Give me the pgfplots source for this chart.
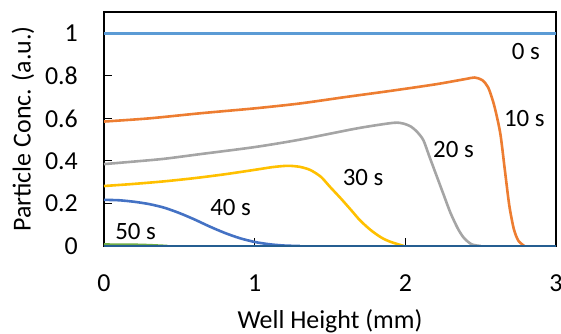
\documentclass[border=0pt]{standalone}
\usepackage{pgfplots}
\pgfplotsset{compat=1.18}
\usepackage{fontspec}
\setmainfont{Carlito}
\definecolor{c0}{HTML}{5B9BD5}
\definecolor{c10}{HTML}{ED7D31}
\definecolor{c20}{HTML}{A5A5A5}
\definecolor{c30}{HTML}{FFC000}
\definecolor{c40}{HTML}{4472C4}
\definecolor{c50}{HTML}{70AD47}
\definecolor{c60}{HTML}{255E91}
\begin{document}
\begin{tikzpicture}[x=1bp,y=1bp]
\path[use as bounding box] (-104,-87) rectangle (457,246);
\begin{axis}[
  at={(0,0)}, anchor=origin,
  scale only axis, width=452bp, height=234bp,
  xmin=0, xmax=3, ymin=0, ymax=1.1,
  xtick={0,1,2,3}, ytick={0,0.2,0.4,0.6,0.8,1},
  yticklabels={0,0.2,0.4,0.6,0.8,1},
  tick align=inside, xtick pos=bottom, ytick pos=left,
  major tick length=8bp,
  tick style={black, line width=1bp},
  axis line style={black, line width=1.3bp},
  ticklabel style={font=\fontsize{26}{30}\selectfont, inner sep=0pt},
  /pgf/number format/assume math mode=true,
  xticklabel style={anchor=center, yshift=-37bp},
  yticklabel style={anchor=east, xshift=-26bp},
  xlabel={Well Height (mm)}, ylabel={Particle Conc. (a.u.)},
  label style={font=\fontsize{26}{30}\selectfont, inner sep=0pt},
  xlabel style={at={(axis description cs:0.5,0)}, anchor=center, yshift=-75bp},
  ylabel style={at={(axis description cs:0,0.5)}, anchor=center, rotate=0, yshift=81bp},
  clip=true,
  every axis plot/.append style={line width=2.6bp, no markers},
]
\addplot[c0] coordinates {(0,1) (3,1)};
\addplot[c10, smooth, tension=0.45] coordinates {(0,0.585) (0.3,0.6) (0.64,0.624) (1.0,0.647) (1.3,0.67) (1.6,0.70) (1.9,0.729) (2.2,0.76) (2.4,0.785) (2.46,0.792) (2.51,0.78) (2.55,0.745) (2.59,0.66) (2.63,0.53) (2.66,0.36) (2.69,0.19) (2.72,0.08) (2.75,0.025) (2.79,0)};
\addplot[c20, smooth, tension=0.45] coordinates {(0,0.385) (0.2,0.397) (0.4,0.41) (0.64,0.432) (1.0,0.465) (1.3,0.50) (1.68,0.553) (1.92,0.579) (1.99,0.575) (2.04,0.56) (2.08,0.535) (2.12,0.497) (2.16,0.42) (2.21,0.325) (2.26,0.23) (2.30,0.155) (2.35,0.08) (2.39,0.037) (2.44,0.008) (2.5,0)};
\addplot[c30, smooth, tension=0.45] coordinates {(0,0.282) (0.2,0.292) (0.4,0.304) (0.6,0.319) (0.8,0.337) (1.0,0.358) (1.12,0.371) (1.22,0.377) (1.30,0.372) (1.37,0.357) (1.44,0.325) (1.50,0.278) (1.57,0.225) (1.64,0.169) (1.70,0.12) (1.77,0.075) (1.84,0.04) (1.90,0.02) (1.99,0)};
\addplot[c40, smooth, tension=0.45] coordinates {(0,0.217) (0.1,0.215) (0.2,0.208) (0.3,0.197) (0.4,0.18) (0.5,0.155) (0.6,0.125) (0.7,0.092) (0.8,0.062) (0.9,0.037) (1.0,0.019) (1.1,0.008) (1.2,0.002) (1.3,0)};
\addplot[c50, smooth, tension=0.45] coordinates {(0,0.007) (0.2,0.006) (0.3,0.004) (0.42,0)};
\addplot[c60] coordinates {(0,0) (3,0)};
\node[font=\fontsize{25}{30}\selectfont] at (axis cs:2.80,0.912) {0 s};
\node[font=\fontsize{25}{30}\selectfont] at (axis cs:2.79,0.60) {10 s};
\node[font=\fontsize{25}{30}\selectfont] at (axis cs:2.32,0.455) {20 s};
\node[font=\fontsize{25}{30}\selectfont] at (axis cs:1.72,0.32) {30 s};
\node[font=\fontsize{25}{30}\selectfont] at (axis cs:0.84,0.18) {40 s};
\node[font=\fontsize{25}{30}\selectfont] at (axis cs:0.21,0.066) {50 s};
\end{axis}
\end{tikzpicture}
\end{document}
